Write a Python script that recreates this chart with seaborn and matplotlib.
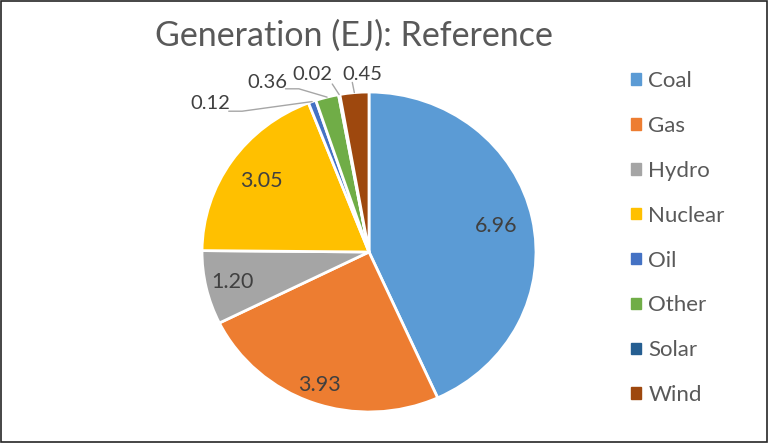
import numpy as np
import matplotlib.pyplot as plt
import matplotlib.patches as patches
import seaborn as sns

sources = ['Coal', 'Gas', 'Hydro', 'Nuclear', 'Oil', 'Other', 'Solar', 'Wind']
values = [6.96, 3.93, 1.20, 3.05, 0.12, 0.36, 0.02, 0.45]
colors = ['#5B9BD5', '#ED7D31', '#A5A5A5', '#FFC000', '#4472C4', '#70AD47', '#255E91', '#9E480E']

sns.set_theme(style='white')
plt.rcParams['font.family'] = ['Lato', 'DejaVu Sans']
txt = '#595959'

fig = plt.figure(figsize=(7.69, 4.43), dpi=100)
ax = fig.add_axes([0.2627, 0.07, 0.4343, 0.7223])

wedges, _ = ax.pie(values, colors=colors, startangle=90, counterclock=False,
                   wedgeprops=dict(edgecolor='white', linewidth=2))
ax.set_aspect('auto')
ax.set_xlim(-1, 1)
ax.set_ylim(-1, 1)

# labels inside the big slices
inner_r = {'Coal': 0.78, 'Gas': 0.88, 'Hydro': 0.84, 'Nuclear': 0.78}
# outside labels for the small slices
outer = {'Oil': (-0.95, 0.93), 'Other': (-0.61, 1.06), 'Solar': (-0.34, 1.11), 'Wind': (-0.04, 1.11)}
knee = {'Oil': (-0.76, 0.88), 'Other': (-0.42, 1.02), 'Solar': (-0.22, 1.05), 'Wind': (-0.10, 1.06)}

for w, name, v in zip(wedges, sources, values):
    ang = np.deg2rad((w.theta1 + w.theta2) / 2)
    lab = f'{v:.2f}'
    if name in inner_r:
        r = inner_r[name]
        ax.text(r * np.cos(ang), r * np.sin(ang), lab, ha='center', va='center',
                fontsize=15.5, color='#404040')
    else:
        lx, ly = outer[name]
        ex, ey = 1.0 * np.cos(ang), 1.0 * np.sin(ang)
        kx, ky = knee[name]
        if name in ('Oil', 'Other'):
            ax.plot([kx - 0.08, kx, ex], [ky, ky, ey], color='#A6A6A6', lw=1, clip_on=False)
        else:
            ax.plot([kx, ex], [ky, ey], color='#A6A6A6', lw=1, clip_on=False)
        ax.text(lx, ly, lab, ha='center', va='center', fontsize=14.5, color='#404040', clip_on=False)

fig.text(354 / 769, 1 - 36 / 443, 'Generation (EJ): Reference', ha='center', va='center',
         fontsize=24.5, color=txt)

handles = [patches.Patch(color=c) for c in colors]
leg = fig.legend(handles, sources, loc='upper left', bbox_to_anchor=(0.795, 0.885),
                 frameon=False, fontsize=16, handlelength=0.42, handleheight=0.42,
                 handletextpad=0.35, labelspacing=1.12)
for t in leg.get_texts():
    t.set_color(txt)

fig.patches.append(patches.Rectangle((0.001, 0.002), 0.997, 0.995, transform=fig.transFigure,
                                     fill=False, edgecolor='#262626', linewidth=1.2))

plt.savefig('out.png', dpi=100)
